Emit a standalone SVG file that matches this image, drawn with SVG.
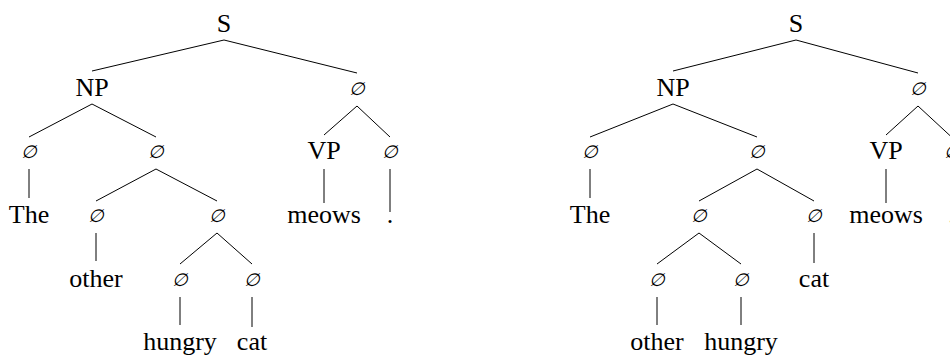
<svg xmlns="http://www.w3.org/2000/svg" width="950" height="356" viewBox="0 0 950 356">
<style>
text{font-family:'Liberation Serif','Times New Roman',serif;font-size:26px;fill:#000;text-anchor:middle}
text.e{font-family:'DejaVu Serif',serif;font-size:18px;font-style:italic}
.edges line{stroke:#000;stroke-width:1}
</style>
<rect width="950" height="356" fill="#fff"/>
<g class="edges" id="edges">
<line x1="224" y1="40" x2="92" y2="71"/>
<line x1="224" y1="40" x2="357" y2="73"/>
<line x1="92" y1="104" x2="29" y2="137"/>
<line x1="92" y1="104" x2="156" y2="137"/>
<line x1="357" y1="106" x2="324" y2="135"/>
<line x1="357" y1="106" x2="390" y2="137"/>
<line x1="29" y1="169" x2="29" y2="198"/>
<line x1="156" y1="169" x2="96" y2="201"/>
<line x1="156" y1="169" x2="217" y2="201"/>
<line x1="324" y1="169" x2="324" y2="203"/>
<line x1="390" y1="169" x2="390" y2="212"/>
<line x1="96" y1="233" x2="96" y2="261"/>
<line x1="217" y1="233" x2="180" y2="264"/>
<line x1="217" y1="233" x2="252" y2="264"/>
<line x1="180" y1="297" x2="180" y2="325"/>
<line x1="252" y1="297" x2="252" y2="327"/>
<line x1="796" y1="40" x2="673" y2="71"/>
<line x1="796" y1="40" x2="918" y2="73"/>
<line x1="673" y1="104" x2="590" y2="137"/>
<line x1="673" y1="104" x2="757" y2="137"/>
<line x1="918" y1="106" x2="886" y2="135"/>
<line x1="918" y1="106" x2="951.5" y2="137"/>
<line x1="590" y1="169" x2="590" y2="198"/>
<line x1="757" y1="169" x2="699" y2="201"/>
<line x1="757" y1="169" x2="814" y2="201"/>
<line x1="886" y1="169" x2="886" y2="203"/>
<line x1="951.5" y1="169" x2="951.5" y2="212"/>
<line x1="699" y1="233" x2="657" y2="264"/>
<line x1="699" y1="233" x2="741" y2="264"/>
<line x1="814" y1="233" x2="814" y2="263"/>
<line x1="657" y1="297" x2="657" y2="325"/>
<line x1="741" y1="297" x2="741" y2="325"/>
</g>
<g id="t1-S"><text x="224" y="32">S</text></g>
<g id="t1-NP"><text x="92" y="96">NP</text></g>
<g id="t1-n1"><text class="e" x="357" y="95">∅</text></g>
<g id="t1-n2"><text class="e" x="29" y="158">∅</text></g>
<g id="t1-n3"><text class="e" x="156" y="158">∅</text></g>
<g id="t1-VP"><text x="324" y="159">VP</text></g>
<g id="t1-n4"><text class="e" x="390" y="158">∅</text></g>
<g id="t1-The"><text x="29" y="223">The</text></g>
<g id="t1-n5"><text class="e" x="96" y="222">∅</text></g>
<g id="t1-n6"><text class="e" x="217" y="222">∅</text></g>
<g id="t1-meows"><text x="324" y="223">meows</text></g>
<g id="t1-dot"><text x="390" y="223">.</text></g>
<g id="t1-other"><text x="96" y="287">other</text></g>
<g id="t1-n7"><text class="e" x="180" y="286">∅</text></g>
<g id="t1-n8"><text class="e" x="252" y="286">∅</text></g>
<g id="t1-hungry"><text x="180" y="350">hungry</text></g>
<g id="t1-cat"><text x="252" y="350">cat</text></g>
<g id="t2-S"><text x="796" y="32">S</text></g>
<g id="t2-NP"><text x="673" y="96">NP</text></g>
<g id="t2-n1"><text class="e" x="918" y="95">∅</text></g>
<g id="t2-n2"><text class="e" x="590" y="158">∅</text></g>
<g id="t2-n3"><text class="e" x="757" y="158">∅</text></g>
<g id="t2-VP"><text x="886" y="159">VP</text></g>
<g id="t2-n4"><text class="e" x="951.5" y="158">∅</text></g>
<g id="t2-The"><text x="590" y="223">The</text></g>
<g id="t2-n5"><text class="e" x="699" y="222">∅</text></g>
<g id="t2-n6"><text class="e" x="814" y="222">∅</text></g>
<g id="t2-meows"><text x="886" y="223">meows</text></g>
<g id="t2-dot"><text x="951.5" y="223">.</text></g>
<g id="t2-n7"><text class="e" x="657" y="286">∅</text></g>
<g id="t2-n8"><text class="e" x="741" y="286">∅</text></g>
<g id="t2-cat"><text x="814" y="287">cat</text></g>
<g id="t2-other"><text x="657" y="350">other</text></g>
<g id="t2-hungry"><text x="741" y="350">hungry</text></g>
</svg>
